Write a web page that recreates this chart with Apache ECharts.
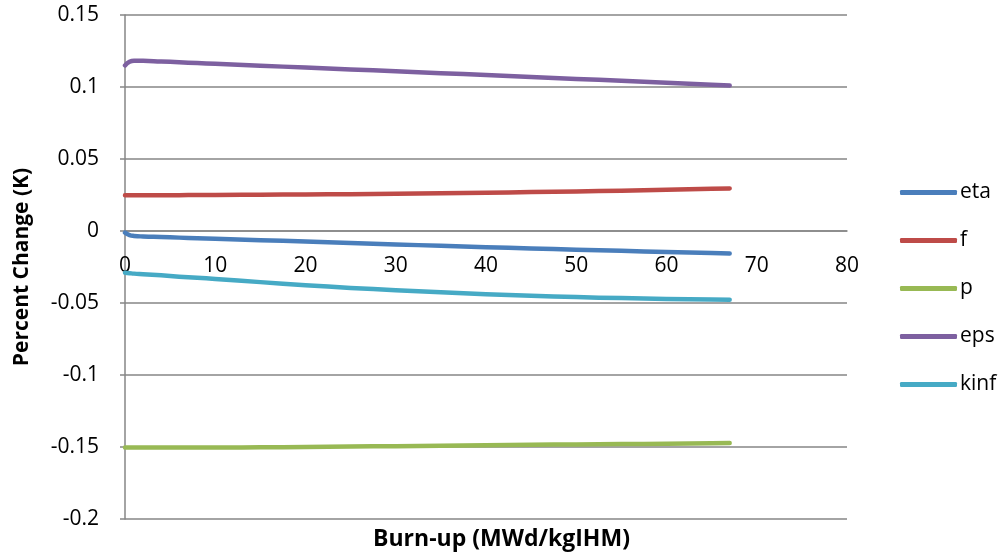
<!DOCTYPE html>
<html>
<head>
<meta charset="utf-8">
<script src="https://cdn.jsdelivr.net/npm/echarts@6/dist/echarts.min.js"></script>
<style>
html,body{margin:0;padding:0;background:#fff;}
#chart{width:1003px;height:558px;}
</style>
</head>
<body>
<div id="chart"></div>
<script>
// Burn-up (MWd/kgIHM)
const burnup = [0, 0.5, 1, 2, 4, 6, 8, 10, 15, 20, 25, 30, 35, 40, 45, 50, 55, 60, 65, 67];
const eta  = [-0.0012, -0.0028, -0.0034, -0.0038, -0.0042, -0.0046, -0.0050, -0.0054, -0.0064, -0.0073, -0.0083, -0.0093, -0.0103, -0.0112, -0.0121, -0.0130, -0.0138, -0.0146, -0.0153, -0.0156];
const f    = [0.0248, 0.0248, 0.0248, 0.0248, 0.0249, 0.0249, 0.0250, 0.0250, 0.0252, 0.0254, 0.0256, 0.0259, 0.0262, 0.0266, 0.0270, 0.0275, 0.0280, 0.0286, 0.0293, 0.0296];
const p    = [-0.1503, -0.1503, -0.1503, -0.1503, -0.1504, -0.1504, -0.1504, -0.1504, -0.1502, -0.1500, -0.1497, -0.1494, -0.1491, -0.1488, -0.1485, -0.1482, -0.1480, -0.1477, -0.1474, -0.1472];
const eps  = [0.1150, 0.1175, 0.1183, 0.1182, 0.1177, 0.1172, 0.1166, 0.1161, 0.1148, 0.1135, 0.1122, 0.1109, 0.1096, 0.1083, 0.1069, 0.1056, 0.1043, 0.1030, 0.1016, 0.1010];
const kinf = [-0.0290, -0.0293, -0.0296, -0.0300, -0.0308, -0.0317, -0.0325, -0.0333, -0.0355, -0.0376, -0.0395, -0.0411, -0.0426, -0.0439, -0.0450, -0.0459, -0.0466, -0.0472, -0.0476, -0.0478];

const seriesNames = ['eta', 'f', 'p', 'eps', 'kinf'];
const seriesValues = [eta, f, p, eps, kinf];
const colors = ['#4A7EBB', '#BE4B48', '#98B954', '#7D60A0', '#46AAC5'];

const yMin = -0.2, yMax = 0.15, yStep = 0.05;
const gridTop = 15, gridBottom = 39;

const font = '"Open Sans", "Liberation Sans", sans-serif';
const chart = echarts.init(document.getElementById('chart'), null, {renderer: 'canvas'});

// x axis drawn where y = 0 (Excel style "crosses at 0")
const plotH = 558 - gridTop - gridBottom;
const zeroOffset = -plotH * (0 - yMin) / (yMax - yMin);

const series = seriesNames.map((name, i) => ({
  name: name,
  type: 'line',
  data: burnup.map((x, j) => [x, seriesValues[i][j]]),
  smooth: true,
  showSymbol: false,
  symbol: 'none',
  lineStyle: {width: 4.5, color: colors[i], cap: 'round', join: 'round'},
  itemStyle: {color: colors[i]},
  z: 3
}));

chart.setOption({
  animation: false,
  backgroundColor: '#ffffff',
  textStyle: {fontFamily: font},
  title: {
    text: 'Burn-up (MWd/kgIHM)',
    left: 'center',
    top: 528,
    padding: 0,
    textStyle: {fontFamily: font, fontSize: 23, fontWeight: 'bold', color: '#000'}
  },
  grid: {left: 125, right: 156, top: gridTop, bottom: gridBottom, containLabel: false},
  legend: {
    orient: 'vertical',
    left: 900,
    top: 182,
    padding: 0,
    itemWidth: 57,
    itemHeight: 5,
    itemGap: 27,
    icon: 'roundRect',
    textStyle: {fontFamily: font, fontSize: 21, color: '#000', padding: [0, 0, 0, -2], lineHeight: 21},
    data: seriesNames
  },
  xAxis: {
    type: 'value',
    min: 0,
    max: 80,
    interval: 10,
    position: 'bottom',
    offset: zeroOffset,
    axisLine: {show: true, onZero: false, lineStyle: {color: '#868686', width: 1.5}},
    axisTick: {show: false},
    splitLine: {show: false},
    axisLabel: {fontFamily: font, fontSize: 21, color: '#000', margin: 25}
  },
  yAxis: {
    type: 'value',
    min: yMin,
    max: yMax,
    interval: yStep,
    name: 'Percent Change (K)',
    nameLocation: 'middle',
    nameGap: 92,
    nameTextStyle: {fontFamily: font, fontSize: 21, fontWeight: 'bold', color: '#000'},
    axisLine: {show: true, onZero: false, lineStyle: {color: '#868686', width: 1.5}},
    axisTick: {show: true, length: 5, lineStyle: {color: '#868686', width: 1.5}},
    splitLine: {show: true, lineStyle: {color: '#868686', width: 1.5}},
    axisLabel: {
      fontFamily: font, fontSize: 21, color: '#000', margin: 26,
      formatter: v => String(parseFloat(v.toFixed(2)))
    }
  },
  series: series
});
</script>
</body>
</html>
